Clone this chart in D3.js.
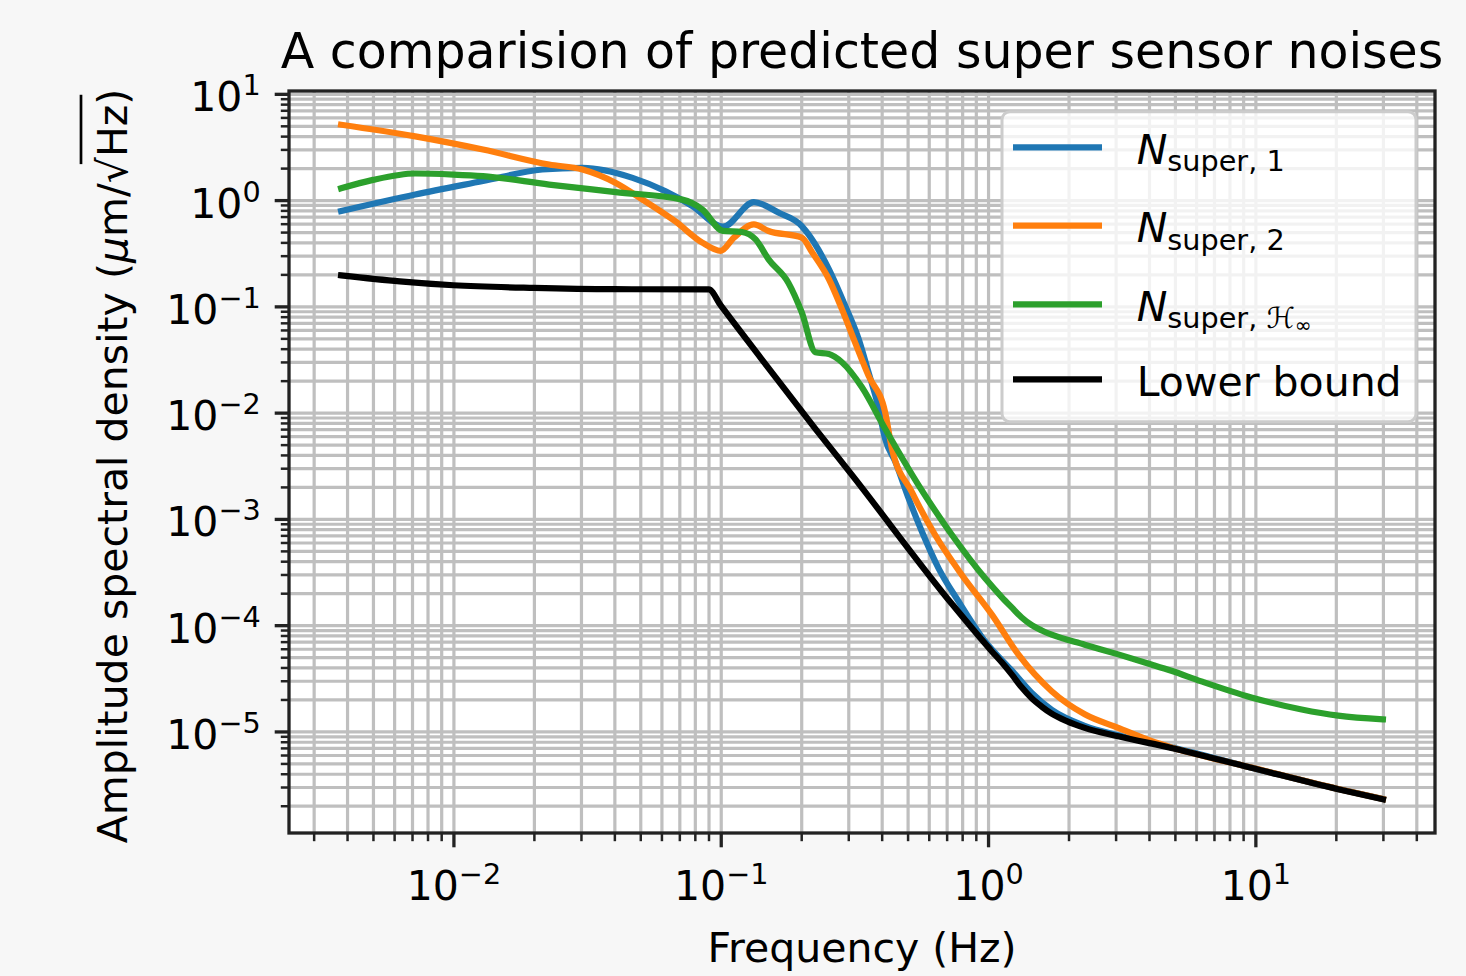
<!DOCTYPE html>
<html>
<head>
<meta charset="utf-8">
<script src="https://cdn.jsdelivr.net/npm/d3@7/dist/d3.min.js"></script>
<style>
  body { margin: 0; background: #f7f7f7; }
  text { font-family: "DejaVu Sans", sans-serif; fill: #000; }
</style>
</head>
<body>
<div id="asdPlot"></div>
<script>
// values: frequency (Hz) and ASD (um/sqrt(Hz))
var superOneFreq = [0.0038, 0.0072, 0.0129, 0.0215, 0.0304, 0.0468, 0.0622, 0.0783, 0.102, 0.133, 0.165, 0.201, 0.213, 0.254, 0.292, 0.328, 0.357, 0.389, 0.412, 0.450, 0.505, 0.566, 0.653, 0.776, 0.975, 1.226, 1.457, 1.73, 2.30, 3.07, 4.85, 9.66, 20.4, 30];
var superOneAsd = [0.789, 1.13, 1.51, 1.94, 2.01, 1.62, 1.21, 0.879, 0.562, 0.957, 0.760, 0.570, 0.475, 0.223, 0.1014, 0.0492, 0.0240, 0.0112, 0.00568, 0.00344, 0.00155, 7.57e-4, 3.43e-4, 1.67e-4, 7.03e-5, 3.75e-5, 2.30e-5, 1.60e-5, 1.13e-5, 9.2e-6, 7.08e-6, 4.56e-6, 2.87e-6, 2.31e-6];

var superTwoFreq = [0.0038, 0.0072, 0.0129, 0.0228, 0.0304, 0.0405, 0.0513, 0.0676, 0.0853, 0.100, 0.112, 0.133, 0.151, 0.201, 0.220, 0.254, 0.284, 0.318, 0.357, 0.412, 0.437, 0.519, 0.634, 0.798, 1.035, 1.30, 1.73, 2.30, 3.07, 4.08, 4.85, 9.66, 20.4, 30];
var superTwoAsd = [5.12, 3.98, 2.99, 2.16, 1.94, 1.45, 1.0, 0.631, 0.398, 0.333, 0.443, 0.590, 0.512, 0.443, 0.321, 0.180, 0.0942, 0.0458, 0.0223, 0.0101, 0.00457, 0.00179, 7.05e-4, 2.97e-4, 1.25e-4, 5.27e-5, 2.39e-5, 1.45e-5, 1.08e-5, 8.13e-6, 7.08e-6, 4.57e-6, 2.87e-6, 2.31e-6];

var superHinfFreq = [0.0038, 0.0050, 0.0072, 0.010, 0.0129, 0.0228, 0.0405, 0.0718, 0.0853, 0.102, 0.120, 0.135, 0.151, 0.179, 0.201, 0.226, 0.254, 0.284, 0.337, 0.412, 0.550, 0.733, 0.975, 1.125, 1.226, 1.336, 1.457, 1.589, 1.73, 2.30, 3.07, 4.08, 4.85, 6.28, 9.66, 14.9, 20.4, 30];
var superHinfAsd = [1.29, 1.55, 1.78, 1.74, 1.68, 1.40, 1.19, 1.01, 0.817, 0.513, 0.501, 0.427, 0.277, 0.167, 0.0877, 0.0370, 0.0356, 0.0298, 0.0174, 0.00705, 0.00207, 7.05e-4, 2.76e-4, 1.84e-4, 1.47e-4, 1.18e-4, 1.00e-4, 8.91e-5, 8.13e-5, 6.55e-5, 5.31e-5, 4.27e-5, 3.72e-5, 2.96e-5, 2.09e-5, 1.61e-5, 1.41e-5, 1.30e-5];

var lowerFreq = [0.0038, 0.0063, 0.010, 0.020, 0.040, 0.0902, 0.100, 0.141, 0.226, 0.310, 0.733, 1.032, 1.125, 1.226, 1.336, 1.457, 1.589, 1.73, 1.97, 2.30, 3.07, 4.85, 9.66, 20.4, 30];
var lowerAsd = [0.196, 0.172, 0.158, 0.149, 0.145, 0.1445, 0.102, 0.0328, 0.00705, 0.00258, 1.58e-4, 5.69e-5, 4.47e-5, 3.44e-5, 2.60e-5, 2.05e-5, 1.71e-5, 1.47e-5, 1.25e-5, 1.08e-5, 9.0e-6, 7.0e-6, 4.55e-6, 2.86e-6, 2.30e-6];

// tick labels (exponents of 10)
var xMajorTicks = [0.01, 0.1, 1, 10];
var xTickExps = ["\u22122", "\u22121", "0", "1"];
var yMajorTicks = [1e-5, 1e-4, 1e-3, 1e-2, 1e-1, 1, 10];
var yTickExps = ["\u22125", "\u22124", "\u22123", "\u22122", "\u22121", "0", "1"];

var seriesColors = ["#1f77b4", "#ff7f0e", "#2ca02c", "#000000"];

// set dimensions and margins of graph
var margin = {top: 91, right: 31, bottom: 143, left: 289},
    width = 1466 - margin.left - margin.right,
    height = 976 - margin.top - margin.bottom;

var root = d3.select("#asdPlot")
  .append("svg")
    .attr("width", 1466)
    .attr("height", 976);

root.append("rect")
    .attr("width", 1466)
    .attr("height", 976)
    .attr("fill", "#f7f7f7");

var svg = root.append("g")
    .attr("transform", "translate(" + margin.left + "," + margin.top + ")");

var series = [
  {name: "one", data: d3.zip(superOneFreq, superOneAsd)},
  {name: "two", data: d3.zip(superTwoFreq, superTwoAsd)},
  {name: "hinf", data: d3.zip(superHinfFreq, superHinfAsd)},
  {name: "lower", data: d3.zip(lowerFreq, lowerAsd)}
];

// log domains with 5% padding (in decades) like matplotlib
function padLog(ext) {
  var a = Math.log10(ext[0]), b = Math.log10(ext[1]), p = (b - a) * 0.05;
  return [Math.pow(10, a - p), Math.pow(10, b + p)];
}
var allFreq = superOneFreq.concat(superTwoFreq, superHinfFreq, lowerFreq);
var allAsd = superOneAsd.concat(superTwoAsd, superHinfAsd, lowerAsd);

// X axis
var x = d3.scaleLog()
  .domain(padLog(d3.extent(allFreq)))
  .range([0, width]);

// Y axis
var y = d3.scaleLog()
  .domain(padLog(d3.extent(allAsd)))
  .range([height, 0]);

function isMajor(d) {
  var l = Math.log10(d);
  return Math.abs(l - Math.round(l)) < 1e-9;
}
var xMinor = x.ticks().filter(function(d) { return !isMajor(d); });
var yMinor = y.ticks().filter(function(d) { return !isMajor(d); });
var xAll = x.ticks(), yAll = y.ticks();

// axes background
svg.append("rect")
    .attr("width", width)
    .attr("height", height)
    .attr("fill", "#ffffff");

// grid, major and minor
svg.append("g")
    .attr("class", "grid")
    .attr("transform", "translate(0," + height + ")")
    .call(d3.axisBottom(x).tickValues(xAll).tickSize(-height).tickFormat(""));
svg.append("g")
    .attr("class", "grid")
    .call(d3.axisLeft(y).tickValues(yAll).tickSize(-width).tickFormat(""));
svg.selectAll(".grid .domain").remove();
svg.selectAll(".grid line")
    .attr("stroke", "#bfbfbf")
    .attr("stroke-width", 3.2);

// curves
svg.append("clipPath")
    .attr("id", "plotClip")
  .append("rect")
    .attr("width", width)
    .attr("height", height);

var line = d3.line()
    .x(function(d) { return x(d[0]); })
    .y(function(d) { return y(d[1]); })
    .curve(d3.curveMonotoneX);

svg.append("g")
    .attr("clip-path", "url(#plotClip)")
  .selectAll("path")
  .data(series)
  .enter().append("path")
    .attr("d", function(d) { return line(d.data); })
    .attr("fill", "none")
    .attr("stroke", function(d, i) { return seriesColors[i]; })
    .attr("stroke-width", 6.2)
    .attr("stroke-linejoin", "round")
    .attr("stroke-linecap", "square");

// spines
svg.append("rect")
    .attr("width", width)
    .attr("height", height)
    .attr("fill", "none")
    .attr("stroke", "#222")
    .attr("stroke-width", 3.3);

// ticks
var xMinorAxis = svg.append("g")
    .attr("transform", "translate(0," + height + ")")
    .call(d3.axisBottom(x).tickValues(xMinor).tickSize(8.2).tickFormat(""));
var yMinorAxis = svg.append("g")
    .call(d3.axisLeft(y).tickValues(yMinor).tickSize(8.2).tickFormat(""));
[xMinorAxis, yMinorAxis].forEach(function(g) {
  g.select(".domain").remove();
  g.selectAll("line").attr("stroke", "#222").attr("stroke-width", 2.5);
});

var xAxis = svg.append("g")
    .attr("transform", "translate(0," + height + ")")
    .call(d3.axisBottom(x).tickValues(xMajorTicks).tickSize(14.3).tickFormat(""));
var yAxis = svg.append("g")
    .call(d3.axisLeft(y).tickValues(yMajorTicks).tickSize(14.3).tickFormat(""));
[xAxis, yAxis].forEach(function(g) {
  g.select(".domain").remove();
  g.selectAll("line").attr("stroke", "#222").attr("stroke-width", 3.3);
  g.attr("font-family", null).attr("font-size", null);
});

function powerLabel(text, exp) {
  text.text(null).attr("dy", 0).attr("font-size", 41).attr("fill", "#000");
  text.append("tspan").text("10");
  text.append("tspan").attr("dy", -16).attr("font-size", 28.7).text(exp);
}
xAxis.selectAll(".tick text").each(function(d, i) {
  powerLabel(d3.select(this).attr("y", 66.6), xTickExps[i]);
});
yAxis.selectAll(".tick text").each(function(d, i) {
  powerLabel(d3.select(this).attr("x", -28.3).attr("y", 17), yTickExps[i]);
});

// title and axis labels
root.append("text")
    .attr("x", margin.left + width / 2)
    .attr("y", 68.3)
    .attr("text-anchor", "middle")
    .attr("font-size", 49)
    .text("A comparision of predicted super sensor noises");

root.append("text")
    .attr("x", margin.left + width / 2)
    .attr("y", 962)
    .attr("text-anchor", "middle")
    .attr("font-size", 41)
    .text("Frequency (Hz)");

var ylab = root.append("g")
    .attr("transform", "translate(127,466) rotate(-90)");
var ytxt = ylab.append("text")
    .attr("text-anchor", "middle")
    .attr("font-size", 41);
ytxt.append("tspan").text("Amplitude spectral density (");
ytxt.append("tspan").attr("font-style", "italic").text("\u03bc");
ytxt.append("tspan").text("m/\u221aHz)");
// overline of the square root
var full = ytxt.node().textContent,
    hz = full.indexOf("Hz");
var hzStart = ytxt.node().getStartPositionOfChar(hz).x,
    hzEnd = ytxt.node().getEndPositionOfChar(hz + 1).x;
ylab.append("line")
    .attr("x1", hzStart - 7)
    .attr("x2", hzEnd + 10)
    .attr("y1", -46)
    .attr("y2", -46)
    .attr("stroke", "#000")
    .attr("stroke-width", 2.7);

// legend
var legendRows = [147.3, 225.7, 304.3, 379.3];
var legend = root.append("g");
legend.append("rect")
    .attr("x", 1002)
    .attr("y", 111.7)
    .attr("width", 414)
    .attr("height", 310)
    .attr("rx", 8)
    .attr("fill", "#ffffff")
    .attr("fill-opacity", 0.8)
    .attr("stroke", "#cccccc")
    .attr("stroke-width", 3);

legendRows.forEach(function(ry, i) {
  legend.append("line")
      .attr("x1", 1013)
      .attr("x2", 1102)
      .attr("y1", ry)
      .attr("y2", ry)
      .attr("stroke", seriesColors[i])
      .attr("stroke-width", 6.2);
  var t = legend.append("text")
      .attr("x", 1136.7)
      .attr("y", ry + 16.5)
      .attr("font-size", 41);
  if (i == 3) {
    t.text("Lower bound");
    return;
  }
  t.append("tspan").attr("font-style", "italic").text("N");
  var sub = t.append("tspan").attr("font-size", 28.7).attr("dy", 7.5);
  if (i == 0) sub.text("super, 1");
  if (i == 1) sub.text("super, 2");
  if (i == 2) {
    sub.text("super, ");
    t.append("tspan").attr("font-size", 28.7).attr("font-style", "italic").text("\u210b");
    t.append("tspan").attr("font-size", 20).attr("dy", 4).text("\u221e");
  }
});

console.log("asd plot done");
</script>
</body>
</html>
